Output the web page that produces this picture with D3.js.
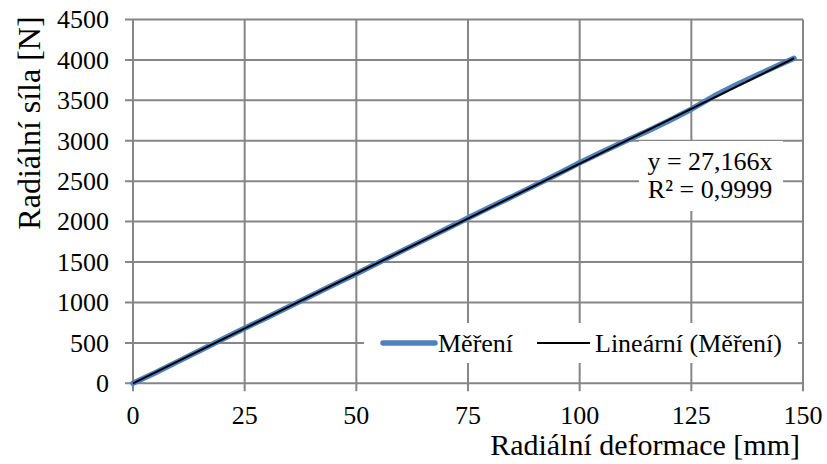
<!DOCTYPE html>
<html>
<head>
<meta charset="utf-8">
<script src="https://cdn.jsdelivr.net/npm/d3@7"></script>
<style>
  body { margin: 0; background: #fff; }
  svg { display: block; }
  text { font-family: "Times New Roman", "Liberation Serif", "DejaVu Serif", serif; }
</style>
</head>
<body>
<script>
// measured data (mm, N)
const deformace = [0, 5, 10, 15, 20, 25, 30, 35, 40, 45, 50, 55, 60, 65, 70, 75, 80, 85, 90, 95, 100, 105, 110, 115, 120, 125, 130, 135, 140, 145, 148];
const sila = [0, 130, 268, 405, 545, 680, 815, 950, 1085, 1222, 1355, 1495, 1632, 1768, 1905, 2045, 2180, 2312, 2448, 2585, 2728, 2862, 2992, 3115, 3248, 3390, 3550, 3690, 3820, 3945, 4020];
const slope = 27.166;
const xTicks = [0, 25, 50, 75, 100, 125, 150];
const yTicks = [0, 500, 1000, 1500, 2000, 2500, 3000, 3500, 4000, 4500];
const seriesNames = ["Měření", "Lineární (Měření)"];
const eqLines = ["y = 27,166x", "R² = 0,9999"];

const serif = '"Times New Roman", "Liberation Serif", serif';

init();

function init() {
  let width = 827, height = 464,
      margin = {l: 133, r: 24, t: 19.5, b: 80.7};

  let svg = d3.select("body").append("svg")
              .attr("width", width)
              .attr("height", height)
              .attr("font-family", serif);

  let x = d3.scaleLinear().domain([0, 150]).range([margin.l, width - margin.r]);
  let y = d3.scaleLinear().domain([0, 4500]).range([height - margin.b, margin.t]);

  let grid = "#868686";

  // gridlines
  svg.append("g").selectAll("line.h")
     .data(yTicks).join("line")
     .attr("x1", margin.l - 8).attr("x2", width - margin.r)
     .attr("y1", d => y(d)).attr("y2", d => y(d))
     .attr("stroke", grid).attr("stroke-width", 2);

  svg.append("g").selectAll("line.v")
     .data(xTicks).join("line")
     .attr("x1", d => x(d)).attr("x2", d => x(d))
     .attr("y1", margin.t).attr("y2", height - margin.b + 8)
     .attr("stroke", grid).attr("stroke-width", 2);

  // tick labels
  svg.append("g").selectAll("text")
     .data(yTicks).join("text")
     .attr("x", 109).attr("y", d => y(d))
     .attr("dy", "0.34em")
     .attr("text-anchor", "end")
     .attr("font-size", 26)
     .text(d => d);

  svg.append("g").selectAll("text")
     .data(xTicks).join("text")
     .attr("x", d => x(d)).attr("y", 424)
     .attr("text-anchor", "middle")
     .attr("font-size", 26)
     .text(d => d);

  // axis titles
  svg.append("text")
     .attr("x", 800).attr("y", 455)
     .attr("text-anchor", "end")
     .attr("font-size", 30)
     .text("Radiální deformace [mm]");

  svg.append("text")
     .attr("transform", "translate(40,123) rotate(-90)")
     .attr("text-anchor", "middle")
     .attr("font-size", 32)
     .text("Radiální síla [N]");

  // measured series
  let pts = deformace.map((d, i) => [d, sila[i]]);
  let line = d3.line().x(d => x(d[0])).y(d => y(d[1]));

  svg.append("path")
     .datum(pts)
     .attr("d", line)
     .attr("fill", "none")
     .attr("stroke", "#4f81bd")
     .attr("stroke-width", 5.5)
     .attr("stroke-linejoin", "round")
     .attr("stroke-linecap", "round");

  // linear trendline
  let xMax = d3.max(deformace);
  svg.append("path")
     .datum([[0, 0], [xMax, slope * xMax]])
     .attr("d", line)
     .attr("fill", "none")
     .attr("stroke", "#000")
     .attr("stroke-width", 2);

  // equation label
  svg.append("rect")
     .attr("x", 639).attr("y", 141).attr("width", 144).attr("height", 70)
     .attr("fill", "#fff");
  svg.append("g").selectAll("text")
     .data(eqLines).join("text")
     .attr("x", 710).attr("y", (d, i) => 170 + i * 28)
     .attr("text-anchor", "middle")
     .attr("font-size", 26)
     .text(d => d);

  // legend
  let lg = svg.append("g");
  lg.append("rect")
    .attr("x", 364).attr("y", 323).attr("width", 434).attr("height", 40)
    .attr("fill", "#fff");
  lg.append("line")
    .attr("x1", 383).attr("x2", 435).attr("y1", 343).attr("y2", 343)
    .attr("stroke", "#4f81bd").attr("stroke-width", 5.5)
    .attr("stroke-linecap", "round");
  lg.append("text")
    .attr("x", 438).attr("y", 352)
    .attr("font-size", 26)
    .text(seriesNames[0]);
  lg.append("line")
    .attr("x1", 537).attr("x2", 590).attr("y1", 343).attr("y2", 343)
    .attr("stroke", "#000").attr("stroke-width", 2);
  lg.append("text")
    .attr("x", 595).attr("y", 352)
    .attr("font-size", 26)
    .text(seriesNames[1]);
}
</script>
</body>
</html>
